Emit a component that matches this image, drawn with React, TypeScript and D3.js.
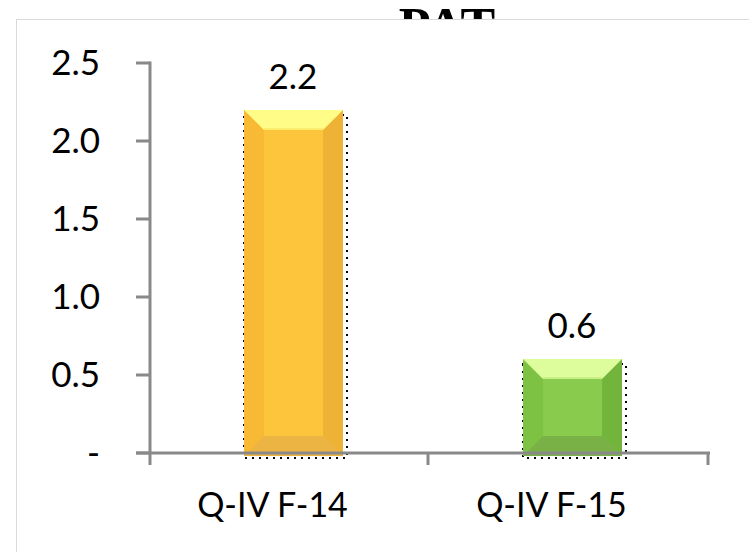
import React from "react";
import * as d3 from "d3";

const categories = ["Q-IV F-14", "Q-IV F-15"];
const values = [2.2, 0.6];
const valueLabels = ["2.2", "0.6"];
const yTicks = [0, 0.5, 1.0, 1.5, 2.0, 2.5];
const yTickLabels = ["-", "0.5", "1.0", "1.5", "2.0", "2.5"];
const title = "PAT";

const palettes = [
  { face: "#FDC53C", left: "#F8B935", right: "#EEB236", top: "#FFFD88", topEdge: "#FFEE6E", bottom: "#ECB443" },
  { face: "#88CB4D", left: "#7DC243", right: "#72B43C", top: "#DDFC9B", topEdge: "#C8EE86", bottom: "#7AB147" },
];

const W = 749;
const H = 552;
const FONT = "Lato, 'Open Sans', sans-serif";

export default function App() {
  const x = d3.scaleBand<string>().domain(categories).range([150, 708]).padding(0);
  const y = d3.scaleLinear().domain([0, 2.5]).range([453, 63]);
  const barW = 99;
  const bev = 20;
  const axisColor = "#898989";

  return (
    <svg width={W} height={H} style={{ position: "absolute", left: 0, top: 0, background: "#fff" }}>
      <text x={447} y={44} textAnchor="middle" fontFamily="'Liberation Serif', 'Times New Roman', serif" fontWeight="bold" fontSize={52} fill="#000">
        {title}
      </text>
      <rect x={16.5} y={19.5} width={760} height={560} fill="#fff" stroke="#d9d9d9" strokeWidth={1} />

      {yTicks.map((t, i) => (
        <g key={"yt" + i}>
          <line x1={136} x2={150} y1={y(t)} y2={y(t)} stroke={axisColor} strokeWidth={3} />
          <text x={100} y={y(t)} dy="0.35em" textAnchor="end" fontFamily={FONT} fontSize={35} fill="#000">
            {yTickLabels[i]}
          </text>
        </g>
      ))}

      {categories.map((c, i) => {
        const cx = Math.round((x(c) as number) + x.bandwidth() / 2 + 3);
        const x0 = Math.round(cx - barW / 2);
        const x1 = x0 + barW;
        const yt = Math.round(y(values[i]));
        const yb = y(0) + 3;
        const p = palettes[i];
        const pts = (arr: number[][]) => arr.map((a) => a.join(",")).join(" ");
        return (
          <g key={c}>
            <rect x={x0} y={yt + 5} width={barW + 4} height={yb - yt - 3} fill="none" stroke="#000" strokeWidth={2} strokeDasharray="2,5" />
            <rect x={x0} y={yt} width={barW} height={yb - yt} fill={p.left} />
            <polygon points={pts([[x1, yt], [x1, yb], [x1 - bev, yb - bev], [x1 - bev, yt + bev]])} fill={p.right} />
            <polygon points={pts([[x0, yb], [x1, yb], [x1 - bev, yb - bev], [x0 + bev, yb - bev]])} fill={p.bottom} />
            <rect x={x0 + bev} y={yt + bev} width={barW - 2 * bev} height={yb - yt - 2 * bev} fill={p.face} />
            <polygon points={pts([[x0, yt], [x1, yt], [x1 - bev, yt + bev], [x0 + bev, yt + bev]])} fill={p.top} />
            <line x1={x0 + bev} x2={x1 - bev} y1={yt + bev - 1} y2={yt + bev - 1} stroke={p.topEdge} strokeWidth={2} />
            <text x={cx} y={yt - 33} dy="0.35em" textAnchor="middle" fontFamily={FONT} fontSize={35} fill="#000">
              {valueLabels[i]}
            </text>
            <text x={(x(c) as number) + x.bandwidth() / 2 - 17} y={505} dy="0.35em" textAnchor="middle" fontFamily={FONT} fontSize={34} fill="#000">
              {c}
            </text>
          </g>
        );
      })}

      <line x1={150} x2={150} y1={y(2.5) - 1.5} y2={y(0)} stroke={axisColor} strokeWidth={3} />
      <line x1={136} x2={710} y1={y(0)} y2={y(0)} stroke={axisColor} strokeWidth={3} />
      {[150, 428, 708].map((tx, i) => (
        <line key={"xt" + i} x1={tx} x2={tx} y1={y(0)} y2={y(0) + 12} stroke={axisColor} strokeWidth={3} />
      ))}
    </svg>
  );
}
